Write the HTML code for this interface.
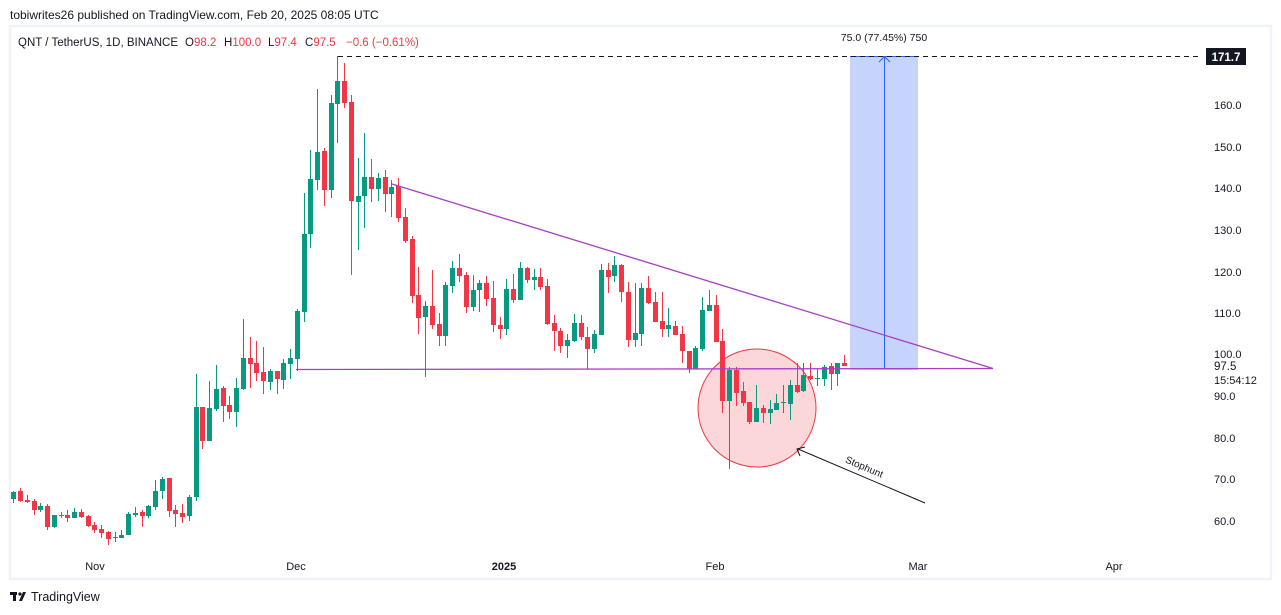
<!DOCTYPE html>
<html><head><meta charset="utf-8"><style>
html,body{margin:0;padding:0;background:#fff;width:1281px;height:615px;overflow:hidden;font-family:"Liberation Sans",sans-serif}
svg{position:absolute;left:0;top:0}
</style></head><body>
<svg id="s" width="1281" height="615" viewBox="0 0 1281 615" xmlns="http://www.w3.org/2000/svg" font-family="Liberation Sans, sans-serif">
<rect x="0" y="0" width="1281" height="615" fill="#fff"/>
<text x="10" y="19" font-size="12" fill="#131722">tobiwrites26 published on TradingView.com, Feb 20, 2025 08:05 UTC</text>
<rect x="10" y="26" width="1261" height="553" fill="none" stroke="#f0f3fa" stroke-width="2.5"/>
<g font-size="11.5" fill="#131722">
<text x="18" y="46">QNT / TetherUS, 1D, BINANCE</text>
<text x="185" y="46">O<tspan fill="#f23645">98.2</tspan></text>
<text x="224" y="46">H<tspan fill="#f23645">100.0</tspan></text>
<text x="268" y="46">L<tspan fill="#f23645">97.4</tspan></text>
<text x="305" y="46">C<tspan fill="#f23645">97.5</tspan></text>
<text x="346" y="46" fill="#f23645">−0.6 (−0.61%)</text>
</g>
<!-- target box -->
<rect x="850" y="56" width="68" height="313" fill="#c6d4fb"/>
<line x1="850" y1="56.5" x2="918" y2="56.5" stroke="#2962ff" stroke-width="1"/>
<line x1="850" y1="369" x2="918" y2="369" stroke="#2962ff" stroke-width="1"/>
<line x1="884.5" y1="56" x2="884.5" y2="369" stroke="#2962ff" stroke-width="1"/>
<polyline points="879,62 884.5,56.5 890,62" fill="none" stroke="#2962ff" stroke-width="1"/>
<text x="884" y="41" font-size="10.5" fill="#131722" text-anchor="middle">75.0 (77.45%) 750</text>
<line x1="338" y1="56.5" x2="1200" y2="56.5" stroke="#131722" stroke-width="1" stroke-dasharray="5,4"/>
<!-- circle -->
<circle cx="757" cy="408" r="59" fill="rgba(242,54,69,0.2)" stroke="#f23645" stroke-width="1"/>
<g id="c"></g>
<line x1="296" y1="369.5" x2="993" y2="368.5" stroke="#a73fc4" stroke-width="1.3"/>
<line x1="392" y1="184" x2="993" y2="368.5" stroke="#a73fc4" stroke-width="1.3"/>
<!-- arrow -->
<line x1="925" y1="503" x2="798" y2="449" stroke="#131722" stroke-width="1"/>
<polyline points="800,456 797,449 805,447" fill="none" stroke="#131722" stroke-width="1"/>
<text x="0" y="0" font-size="10" fill="#131722" text-anchor="middle" transform="translate(863,470) rotate(23)">Stophunt</text>
<!-- price axis -->
<g font-size="11" fill="#131722" text-anchor="start">
<text x="1214" y="109">160.0</text><text x="1214" y="151">150.0</text><text x="1214" y="192">140.0</text>
<text x="1214" y="234">130.0</text><text x="1214" y="276">120.0</text><text x="1214" y="317">110.0</text>
<text x="1214" y="358">100.0</text><text x="1214" y="400">90.0</text><text x="1214" y="442">80.0</text>
<text x="1214" y="483">70.0</text><text x="1214" y="525">60.0</text>
</g>
<rect x="1206" y="48" width="40" height="17" fill="#131722"/>
<text x="1226" y="61" font-size="11.5" font-weight="bold" fill="#fff" text-anchor="middle">171.7</text>
<rect x="1210" y="358" width="60" height="28" fill="#fff"/>
<text x="1214" y="370" font-size="11.5" fill="#131722">97.5</text>
<text x="1214" y="384" font-size="11" fill="#131722">15:54:12</text>
<!-- time axis -->
<g font-size="11" fill="#131722" text-anchor="middle">
<text x="95" y="570">Nov</text><text x="296" y="570">Dec</text><text x="504" y="570" font-weight="bold">2025</text>
<text x="715" y="570">Feb</text><text x="918" y="570">Mar</text><text x="1114" y="570">Apr</text>
</g>
<!-- logo -->
<g fill="#131722"><rect x="10" y="592" width="7" height="3"/><rect x="13" y="592" width="3" height="9"/><circle cx="20" cy="594" r="1.6"/><polygon points="23,592 26,592 22,601 19,601"/></g>
<text x="31" y="601" font-size="12.5" fill="#131722">TradingView</text>
</svg>
<script>
var d=[
[13,'G',492,499,491,503],[20,'R',491,501,488,502],[27,'R',500,502,495,503],[34,'R',501,510,499,515],[40,'G',506,510,503,512],
[47,'R',506,527,504,530],[54,'G',515,527,515,528],[61,'R',515,516,512,518],[67,'R',515,518,510,522],[74,'G',512,518,508,518],
[81,'R',512,517,509,518],[88,'R',516,526,515,527],[94,'R',525,530,522,533],[101,'R',529,533,525,538],[108,'R',532,539,531,545],
[115,'G',537,538,532,542],[121,'G',535,538,530,538],[128,'G',514,535,512,535],[135,'G',513,515,507,517],[142,'R',512,516,510,527],
[148,'G',506,516,505,518],[155,'G',491,507,480,510],[162,'G',479,491,477,499],[169,'R',478,511,478,517],[175,'R',510,514,505,527],
[182,'R',513,517,504,523],[189,'G',497,516,495,521],[196,'G',407,497,374,501],[202,'R',407,441,407,449],[209,'G',408,441,381,441],
[216,'G',389,409,365,411],[223,'R',388,406,386,422],[229,'R',405,412,396,419],[236,'G',388,412,378,427],[243,'G',358,389,319,390],
[250,'R',358,364,337,388],[256,'R',363,373,341,381],[263,'R',372,381,347,394],[270,'G',371,382,369,390],[277,'R',371,379,371,394],
[283,'G',363,380,359,389],[290,'G',358,364,349,379],[297,'G',311,359,309,371],[304,'G',234,312,193,322],[310,'G',179,234,150,248],
[317,'G',152,180,89,190],[324,'R',151,190,148,206],[331,'G',103,190,95,198],[337,'G',81,104,56,143],[344,'R',81,103,63,108],
[351,'R',102,201,95,275],[358,'G',196,202,158,250],[364,'G',177,196,133,228],[371,'R',177,189,159,202],[378,'G',178,189,173,201],
[385,'R',177,194,170,212],[391,'G',187,194,180,217],[398,'R',186,218,178,222],[405,'R',217,241,208,243],[412,'R',239,296,236,303],
[418,'R',295,318,267,334],[425,'G',306,317,301,377],[432,'R',306,325,270,329],[439,'R',324,336,313,346],[445,'G',285,336,282,346],
[452,'G',268,286,261,293],[459,'R',268,276,254,282],[466,'R',275,307,272,313],[473,'G',290,307,275,311],[479,'G',283,290,280,312],
[486,'R',283,299,276,306],[493,'R',298,325,281,332],[500,'R',325,329,317,339],[506,'G',289,329,279,335],[513,'R',289,300,274,303],
[520,'G',268,300,262,300],[527,'R',268,280,267,283],[534,'G',277,280,269,290],[540,'R',277,287,268,290],[547,'R',286,324,279,325],
[554,'R',323,331,315,351],[560,'R',331,346,328,353],[567,'G',340,346,334,358],[574,'G',323,341,314,342],[581,'R',323,337,315,340],
[587,'R',337,349,327,369],[594,'G',334,349,330,353],[601,'G',270,335,264,335],[608,'R',270,277,263,293],[614,'G',265,276,256,282],
[621,'R',265,292,264,302],[628,'R',292,340,282,347],[635,'G',333,340,283,347],[641,'G',288,334,283,346],[648,'R',288,303,276,304],
[655,'R',302,322,292,322],[662,'R',321,329,292,337],[668,'G',325,329,308,337],[675,'R',326,335,321,335],[682,'R',334,351,326,363],
[689,'R',351,369,351,373],[695,'G',348,369,346,369],[702,'G',310,349,297,351],[709,'G',305,311,290,311],[716,'R',305,342,295,342],
[722,'R',341,401,329,413],[729,'G',370,401,367,469],[736,'R',370,393,367,406],[743,'R',391,403,382,406],[749,'R',402,422,402,424],
[756,'G',408,422,385,422],[763,'R',408,413,405,423],[770,'G',409,413,400,424],[776,'G',403,410,394,410],[783,'G',402,403,385,413],
[790,'G',385,404,380,420],[797,'R',385,392,363,393],[803,'G',375,391,363,392],[810,'R',376,379,363,380],[817,'G',378,379,369,386],
[824,'G',367,379,365,386],[831,'R',366,374,363,390],[837,'G',363,374,363,386],[844,'R',363,366,355,366]
];
var g=document.getElementById('c'),h='';
d.forEach(function(c){var col=c[1]=='G'?'#089981':'#f23645';var t=Math.min(c[2],c[3]),b=Math.max(c[2],c[3]);if(b-t<1)b=t+1;
h+='<line x1="'+(c[0]+.5)+'" y1="'+c[4]+'" x2="'+(c[0]+.5)+'" y2="'+c[5]+'" stroke="'+col+'" stroke-width="1"/>';
h+='<rect x="'+(c[0]-2)+'" y="'+t+'" width="5" height="'+(b-t)+'" fill="'+col+'"/>';});
g.innerHTML=h;
</script>
</body></html>
